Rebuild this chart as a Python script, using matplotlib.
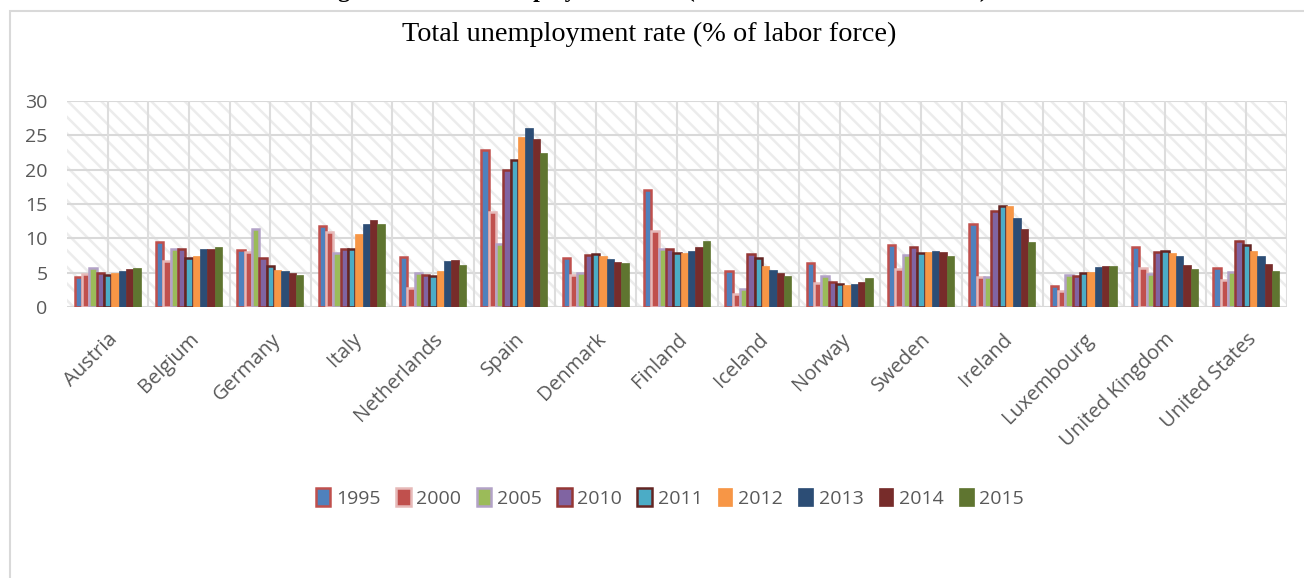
import matplotlib
matplotlib.use("Agg")
import matplotlib.pyplot as plt
from matplotlib.patches import Rectangle
import numpy as np

countries = ["Austria", "Belgium", "Germany", "Italy", "Netherlands", "Spain", "Denmark",
             "Finland", "Iceland", "Norway", "Sweden", "Ireland", "Luxembourg",
             "United Kingdom", "United States"]
years = ["1995", "2000", "2005", "2010", "2011", "2012", "2013", "2014", "2015"]

v1995 = [4.4, 9.4, 8.3, 11.8, 7.3, 22.8, 7.1, 17.1, 5.3, 6.4, 9.0, 12.1, 3.0, 8.8, 5.7]
v2000 = [4.8, 6.7, 8.0, 10.9, 2.8, 13.9, 4.6, 11.1, 1.9, 3.5, 5.6, 4.4, 2.3, 5.7, 4.0]
v2005 = [5.7, 8.5, 11.3, 7.8, 4.9, 9.2, 4.9, 8.5, 2.6, 4.5, 7.6, 4.4, 4.6, 4.8, 5.1]
v2010 = [5.0, 8.4, 7.2, 8.5, 4.6, 20.0, 7.6, 8.5, 7.7, 3.6, 8.7, 14.0, 4.5, 8.0, 9.6]
v2011 = [4.7, 7.2, 5.9, 8.5, 4.5, 21.4, 7.7, 7.9, 7.1, 3.3, 7.9, 14.7, 5.0, 8.1, 9.0]
v2012 = [4.9, 7.5, 5.4, 10.7, 5.3, 24.8, 7.5, 7.8, 6.0, 3.2, 8.0, 14.7, 5.1, 7.9, 8.1]
v2013 = [5.3, 8.4, 5.2, 12.1, 6.7, 26.1, 7.0, 8.2, 5.4, 3.4, 8.1, 13.0, 5.8, 7.5, 7.4]
v2014 = [5.6, 8.5, 5.0, 12.7, 6.8, 24.4, 6.6, 8.7, 5.0, 3.6, 8.0, 11.3, 5.9, 6.1, 6.2]
v2015 = [5.7, 8.7, 4.6, 12.1, 6.1, 22.4, 6.4, 9.6, 4.5, 4.2, 7.4, 9.5, 5.9, 5.5, 5.3]
series = [v1995, v2000, v2005, v2010, v2011, v2012, v2013, v2014, v2015]

face_colors = ["#4F81BD", "#C0504D", "#9BBB59", "#8064A2", "#4BACC6",
               "#F79646", "#2C4D75", "#772C2A", "#5F7530"]
edge_colors = ["#C0504D", "#E6B9B8", "#B3A2C7", "#953735", "#632523",
               None, None, None, None]

W, H = 1304, 578
fig = plt.figure(figsize=(W / 100, H / 100), dpi=100)

# outer chart border
fig.patches.append(Rectangle((10 / W, -0.2), 1.2, 1.2 - 11 / H,
                             transform=fig.transFigure, fill=False,
                             edgecolor="#D9D9D9", lw=1.5, zorder=0))

# cut-off caption at very top (only its lowest part is visible in the reference)
fig.text(0.5, 1 + 3.0 / H, "Figure 1: Total Unemployment Rate (% of labor force 1995 - 2015)",
         ha="center", va="baseline", fontsize=17, fontweight="bold",
         family="Liberation Serif", color="black")

ax = fig.add_axes([67 / W, 1 - 307 / H, (1287 - 67) / W, (307 - 101) / H])
ax.set_xlim(0, len(countries))
ax.set_ylim(0, 30)

# hatched background
plt.rcParams["hatch.linewidth"] = 1.8
bg = Rectangle((0, 0), 1, 1, transform=ax.transAxes, facecolor="white",
               edgecolor="#ECECEC", hatch="\\\\", lw=0, zorder=0)
ax.add_patch(bg)

# grid
for yv in range(5, 31, 5):
    ax.axhline(yv, color="#D9D9D9", lw=1.5, zorder=1)
for xv in np.arange(0.5, len(countries) + 0.01, 0.5):
    ax.axvline(xv, color="#DDDDDD", lw=1.5, zorder=1)
ax.axhline(0, color="#D9D9D9", lw=1.5, zorder=1)

n = len(years)
bw = 0.09
x = np.arange(len(countries)) + 0.5
for i, (vals, fc, ec) in enumerate(zip(series, face_colors, edge_colors)):
    pos = x + (i - (n - 1) / 2) * bw
    if ec is None:
        ax.bar(pos, vals, width=bw, color=fc, edgecolor=fc, lw=0.5, label=years[i], zorder=3)
    else:
        ax.bar(pos, vals, width=bw, color=fc, edgecolor=ec, lw=1.8, label=years[i], zorder=3)

for s in ax.spines.values():
    s.set_visible(False)

ax.set_yticks(range(0, 31, 5))
ax.set_yticklabels([str(v) for v in range(0, 31, 5)], fontsize=14, color="#595959",
                   family="Open Sans")
ax.tick_params(axis="y", length=0, pad=14)
ax.set_xticks(x)
ax.set_xticklabels(countries, rotation=45, ha="right", rotation_mode="anchor",
                   fontsize=14.5, color="#595959", family="Open Sans")
ax.tick_params(axis="x", length=0, pad=16)

fig.text(649 / W, 1 - 34 / H, "Total unemployment rate (% of labor force)",
         family="Liberation Serif", fontsize=20.3, color="black", ha="center", va="center")

fig.legend(loc="center", bbox_to_anchor=(670 / W, 1 - 498 / H), ncol=9, frameon=False,
           prop={"family": "Open Sans", "size": 14}, labelcolor="#595959",
           handlelength=0.75, handleheight=1.0, handletextpad=0.3, columnspacing=0.78)

fig.savefig("out.png", dpi=100)
